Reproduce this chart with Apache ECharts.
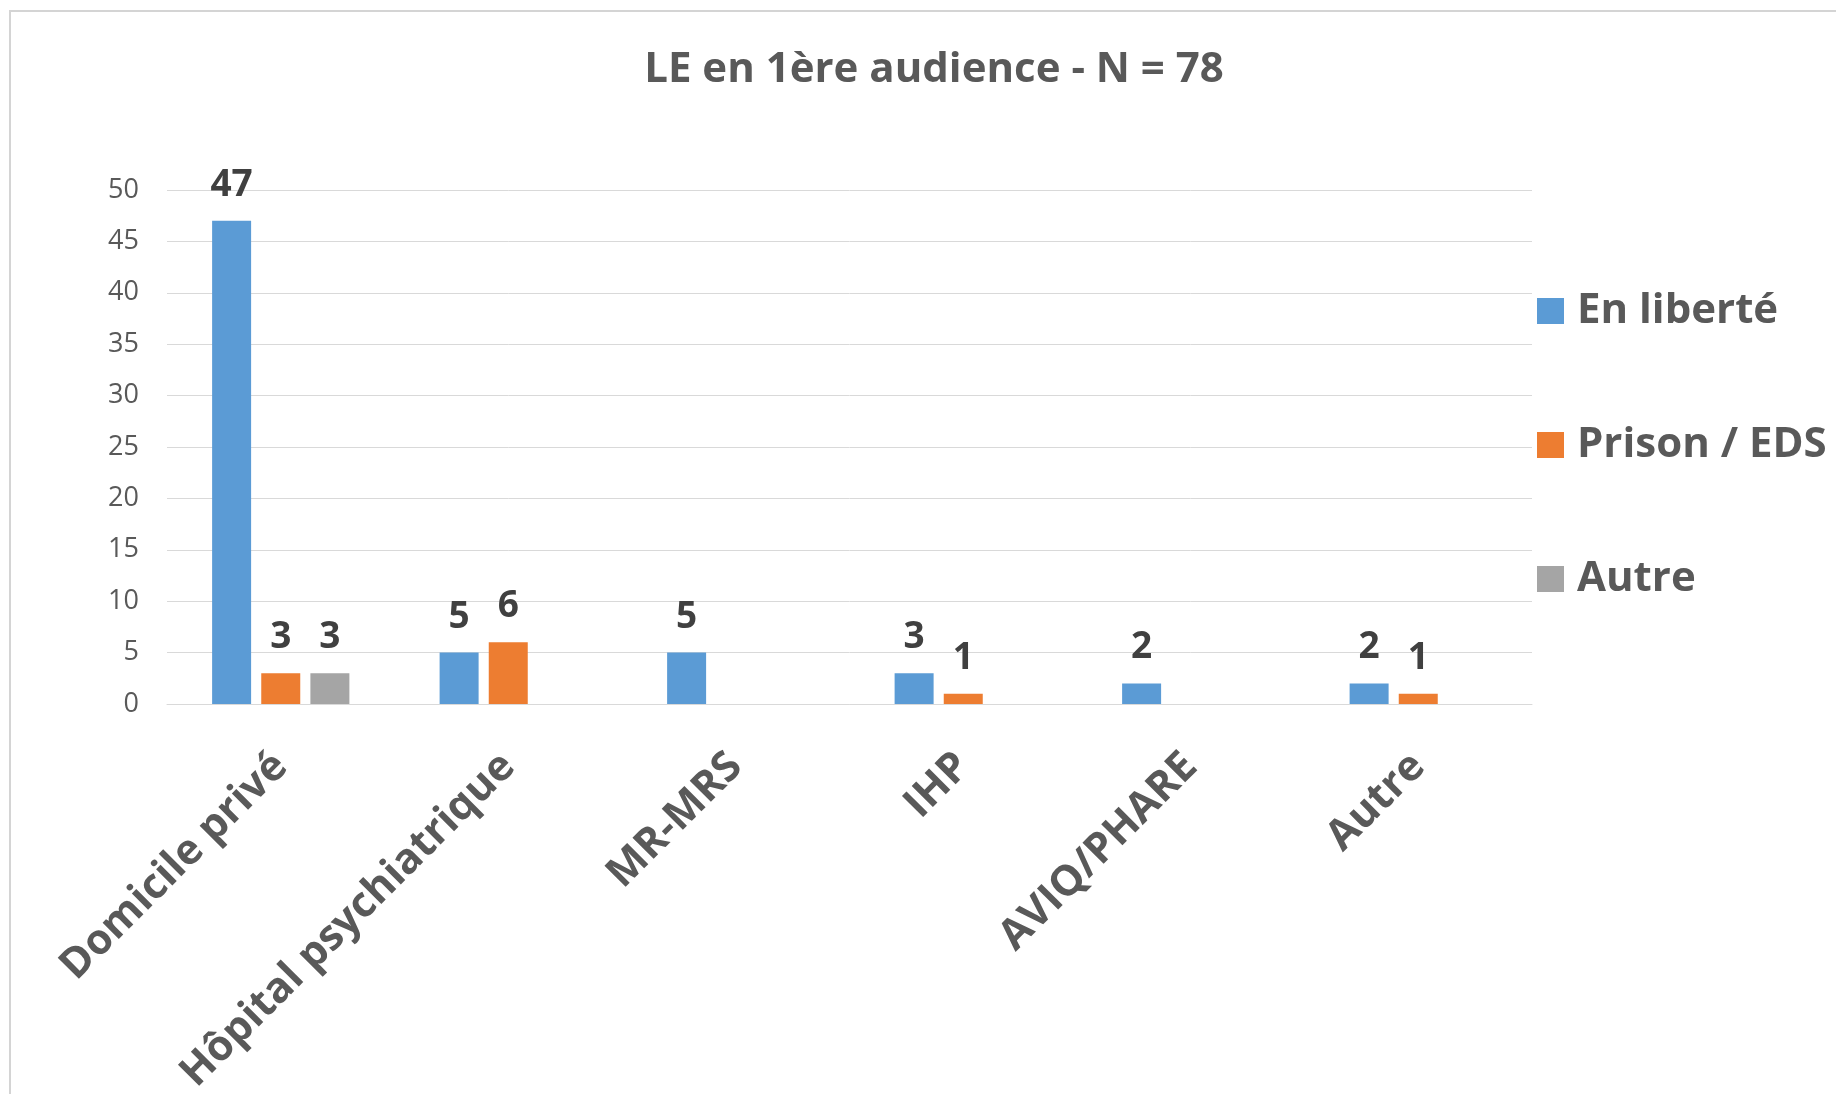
<!DOCTYPE html>
<html>
<head>
<meta charset="utf-8">
<script src="https://cdn.jsdelivr.net/npm/echarts@6/dist/echarts.min.js"></script>
<style>
  html, body { margin: 0; padding: 0; background: #fff; }
  #main { width: 1836px; height: 1094px; }
</style>
</head>
<body>
<div id="main"></div>
<script>
// categories and values
var categories = ["Domicile privé", "Hôpital psychiatrique", "MR-MRS", "IHP", "AVIQ/PHARE", "Autre"];
var enLiberte = [47, 5, 5, 3, 2, 2];
var prisonEds = [3, 6, null, 1, null, 1];
var autre = [3, null, null, null, null, null];
var yTicks = { min: 0, max: 50, interval: 5 };

var font = "Open Sans";
var grey = "#595959";

var chart = echarts.init(document.getElementById("main"));

function barSeries(name, data, color) {
  return {
    name: name,
    type: "bar",
    barWidth: 39,
    barGap: "26%",
    data: data,
    itemStyle: { color: color },
    label: {
      show: true,
      position: "top",
      distance: 17,
      fontFamily: font,
      fontSize: 37,
      fontWeight: "bold",
      color: "#404040"
    }
  };
}

chart.setOption({
  animation: false,
  title: {
    text: "LE en 1ère audience - N = 78",
    left: 929,
    top: 44,
    textAlign: "center",
    textStyle: {
      fontFamily: font,
      fontSize: 42,
      fontWeight: "bold",
      color: grey
    }
  },
  graphic: [{
    type: "rect",
    shape: { x: 10, y: 11, width: 2000, height: 2000 },
    style: { fill: "none", stroke: "#d4d4d4", lineWidth: 2 }
  }],
  legend: {
    orient: "vertical",
    left: 1532,
    top: 285,
    itemWidth: 27,
    itemHeight: 26,
    itemGap: 92,
    icon: "rect",
    textStyle: {
      fontFamily: font,
      fontSize: 42,
      fontWeight: "bold",
      color: grey,
      padding: [0, 0, 0, 8]
    }
  },
  grid: {
    left: 167,
    right: 304,
    top: 190,
    bottom: 390,
    outerBoundsMode: "none"
  },
  xAxis: {
    type: "category",
    data: categories,
    axisLine: { lineStyle: { color: "#d9d9d9", width: 1 } },
    axisTick: { show: false },
    axisLabel: {
      rotate: 45,
      interval: 0,
      margin: 56,
      fontFamily: font,
      fontSize: 42,
      fontWeight: "bold",
      color: grey
    }
  },
  yAxis: {
    type: "value",
    min: yTicks.min,
    max: yTicks.max,
    interval: yTicks.interval,
    axisLine: { show: false },
    axisTick: { show: false },
    splitLine: { lineStyle: { color: "#d9d9d9", width: 1 } },
    axisLabel: {
      margin: 28,
      fontFamily: font,
      fontSize: 27,
      color: grey
    }
  },
  series: [
    barSeries("En liberté", enLiberte, "#5B9BD5"),
    barSeries("Prison / EDS", prisonEds, "#ED7D31"),
    barSeries("Autre", autre, "#A5A5A5")
  ]
});
</script>
</body>
</html>
